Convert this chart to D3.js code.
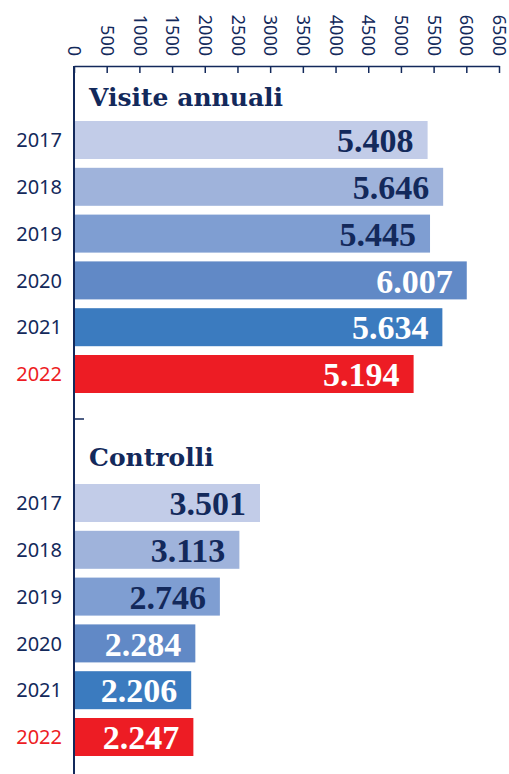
<!DOCTYPE html>
<html>
<head>
<meta charset="utf-8">
<script src="https://cdn.jsdelivr.net/npm/d3@7"></script>
<style>
  body { margin: 0; background: #fff; }
  svg { display: block; }
</style>
</head>
<body>
<div id="chart"></div>
<script>
var years = ["2017", "2018", "2019", "2020", "2021", "2022"];
var visite = [5408, 5646, 5445, 6007, 5634, 5194];
var controlli = [3501, 3113, 2746, 2284, 2206, 2247];
var ticks = [0, 500, 1000, 1500, 2000, 2500, 3000, 3500, 4000, 4500, 5000, 5500, 6000, 6500];
var colors = ["#c2cce8", "#9fb3db", "#7f9ed2", "#6189c6", "#3b7bbf", "#ed1c24"];

function init(){
    var w = 509;
    var h = 774;
    var navy = "#13295b";

    var svg = d3.select("#chart")
                .append("svg")
                .attr("width", w)
                .attr("height", h);

    var x = d3.scaleLinear().domain([0, 6500]).range([74, 499]);
    // controlli bars are drawn on a compressed scale in the original
    var x2 = d3.scaleLinear().domain([0, 8000]).range([74, 499]);

    // top axis
    var axis = svg.append("g")
        .attr("transform", "translate(0,66)")
        .call(d3.axisTop(x).tickValues(ticks).tickSize(-7).tickSizeOuter(0));
    axis.select(".domain").attr("stroke", navy).attr("stroke-width", 1.5);
    axis.selectAll(".tick line").attr("stroke", navy).attr("stroke-width", 1.5);
    axis.selectAll(".tick text")
        .attr("fill", navy)
        .attr("font-family", "'Noto Sans', sans-serif")
        .attr("font-size", "18px")
        .attr("text-anchor", "end")
        .attr("dy", "0.35em")
        .attr("transform", "translate(0,-10) rotate(90)")
        .attr("x", 0)
        .attr("y", 0)
        .text(function(d){ return d; });

    function section(data, scale, top, title, titleY) {
        var y = d3.scaleBand().domain(years)
            .range([top, top + 6 * 46.8])
            .paddingInner(0.188)
            .paddingOuter(0.094);

        svg.append("text")
            .attr("x", 89)
            .attr("y", titleY)
            .attr("font-family", "'DejaVu Serif', serif")
            .attr("font-weight", "bold")
            .attr("font-size", "25px")
            .attr("fill", navy)
            .text(title);

        svg.selectAll(null)
            .data(data)
            .enter()
            .append("rect")
            .attr("x", scale(0) + 1)
            .attr("y", function(d, i){ return y(years[i]); })
            .attr("width", function(d){ return scale(d) - scale(0) - 1; })
            .attr("height", y.bandwidth())
            .attr("fill", function(d, i){ return colors[i]; });

        svg.selectAll(null)
            .data(data)
            .enter()
            .append("text")
            .attr("x", function(d){ return scale(d) - 14; })
            .attr("y", function(d, i){ return y(years[i]) + y.bandwidth() / 2; })
            .attr("dy", "0.36em")
            .attr("text-anchor", "end")
            .attr("font-family", "'Liberation Serif', serif")
            .attr("font-weight", "bold")
            .attr("font-size", "34px")
            .attr("fill", function(d, i){ return i < 3 ? navy : "#fff"; })
            .text(function(d){ return d3.format(",")(d).replace(",", "."); });

        svg.selectAll(null)
            .data(years)
            .enter()
            .append("text")
            .attr("x", 62)
            .attr("y", function(d){ return y(d) + y.bandwidth() / 2; })
            .attr("dy", "0.36em")
            .attr("text-anchor", "end")
            .attr("font-family", "'Noto Sans', sans-serif")
            .attr("font-size", "20px")
            .attr("fill", function(d, i){ return i == 5 ? "#ed1c24" : navy; })
            .text(function(d){ return d; });
    }

    section(visite, x, 116.6, "Visite annuali", 106);
    section(controlli, x2, 479.6, "Controlli", 466);

    // left axis line and separator tick
    svg.append("line")
        .attr("x1", 74).attr("x2", 74)
        .attr("y1", 66).attr("y2", h)
        .attr("stroke", navy).attr("stroke-width", 2);
    svg.append("line")
        .attr("x1", 74).attr("x2", 84)
        .attr("y1", 419).attr("y2", 419)
        .attr("stroke", navy).attr("stroke-width", 1.5);
}
window.onload = init;
</script>
</body>
</html>
